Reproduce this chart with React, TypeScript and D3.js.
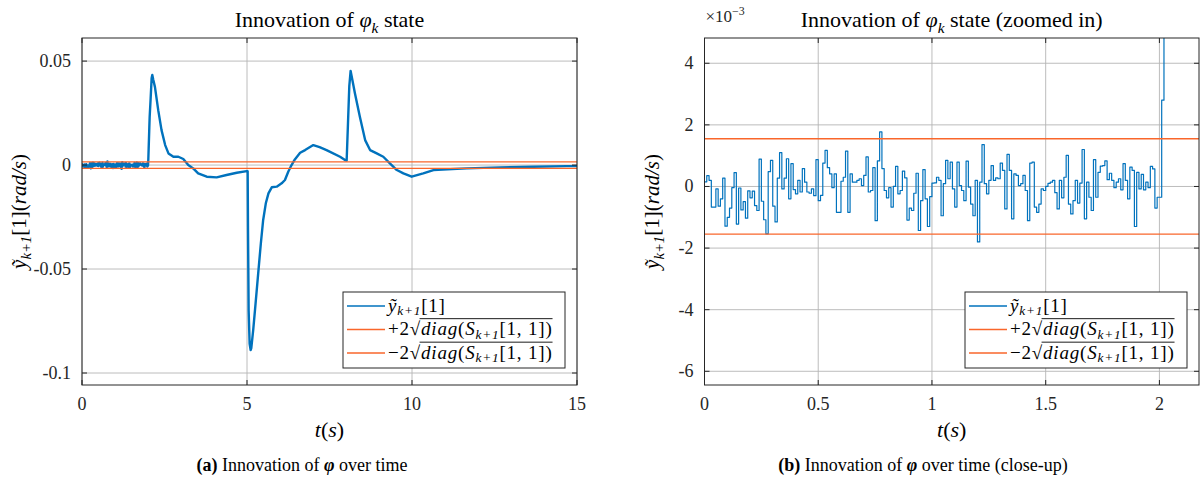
import React, { useEffect, useRef } from "react";
import * as d3 from "d3";

const W = 1204;
const H = 481;

// Close-up innovation samples (×1e-3 rad/s), sampled every ZOOM_DT seconds starting at t = 0
const ZOOM_DT = 0.01;
const ZOOM_VALUES = [
  0.15, 0.35, 0.2, -0.67, -0.67, -0.08, -0.64, -0.4, 0.27, -1.29,
  -1.0, -0.7, -0.04, 0.45, -1.22, -0.05, -0.76, -0.49, -1.03, -0.14,
  -0.37, -0.15, -0.62, -0.78, 0.89, -0.48, -1.08, -1.54, 0.48, 0.85,
  -0.64, -1.15, 0.27, 1.1, -0.08, 0.27,
  0.9, -0.4, 0.74, -0.1, -0.24, 0.2, -0.18, 0.58, 0.14, -0.18,
  -0.22, -0.08, -0.3, 0.87, -0.46, -0.29, 0.76, 1.17, 0.61, 0.41,
  -0.04, 0.41, -0.84, -0.84, 0.17, 0.3, 1.15, -0.84, 0.41, 0.14,
  0.14, 0.2, 0.25, 0.03, 0.36, 0.96, -0.18, -0.13, 0.61, -1.11,
  0.83, 1.77,
  0.58, -0.13, -0.37, -0.04, -0.67, 0, 0.65, -0.24,
  -0.13, 0.5, 0.28, -1.09, -0.7, -0.78, -0.22, 0.43, -1.43, -0.46,
  0.55, -0.4, -1.3, -0.33, 0.11,
  0.12, 0.3, 0.2, -0.95, 0.09, 0.85, 0.25, 0.79, -0.08, -0.67,
  0.79, 0.03, -0.13, -0.46, 0.82, -0.02, -0.57, -0.95, 0.2, -1.8,
  0.14, 1.36, 0.09, -0.24, 0.2, 0.68, 0.2, 0.28, 0.25, 0.76,
  0.52, -0.73, 1.04, 0.52, -1.05, 0.41, 0.36, 0.03, 0.09, 0.36,
  -0.13, -1.11, 0.76, 0.79, -0.67, -0.84, -0.57, -0.08, -0.13, 0,
  0.1, 0.14, 0.2, -0.2,
  -0.73, 0.2, -0.37, 0.3, 1.01, -0.57,
  -0.89, -0.46, 0.2, -0.54, 0.11, 1.2, -1.05, 0.14, -0.35, -0.78,
  0.87, -0.35, 0.46, 0.66, 0.68, 0.83, 0.22, 0.43, 0.2, -0.04,
  0.14, 0.25, -0.11, 0.74, 0.2, -0.4, 0.63, 0.52, -1.3, 0.46,
  -0.08, 0.39, -0.11, 0.14, -0.04, 0.65, 0.57, -0.7, -0.35,
  -0.35,
  2.8, 8, 13, 18, 23,
];

// Full-run innovation after the close-up window (t in s, value ×1e-3 rad/s)
const FULL_T = [
  2.08, 2.11, 2.13, 2.16, 2.21, 2.31, 2.41, 2.52, 2.62, 2.77, 2.92, 3.07, 3.22, 3.37, 3.52, 3.78,
  4.08, 4.38, 4.69, 4.99, 5.02, 5.03, 5.05, 5.08, 5.11, 5.13, 5.19, 5.26, 5.34, 5.42, 5.49, 5.57,
  5.65, 5.75, 5.9, 6.05, 6.15, 6.25, 6.35, 6.45, 6.61, 6.76, 7.01, 7.2, 7.41, 7.82, 7.97, 8.02,
  8.06, 8.1, 8.14, 8.18, 8.27, 8.42, 8.58, 8.73, 8.93, 9.13, 9.33, 9.54, 9.74, 9.99, 10.34, 10.65,
  11.66, 12.67, 13.68, 14.69, 15.0,
];
const FULL_V = [
  32, 41.7, 43.3, 41, 37.6, 26.4, 16.8, 9.6, 5.6, 4.0, 4.0, 2.9, 0, -1.6, -4.0, -5.6,
  -5.9, -4.8, -3.7, -2.9, -3.0, -30, -70, -86, -89, -88, -79, -66.5, -52, -37.6, -26.4, -18.4,
  -13.6, -10.7, -10.4, -8.8, -7.2, -3.2, 0, 2.7, 5.9, 7.2, 9.6, 8.6, 7.2, 4.0, 2.4, 2.2,
  20, 38, 45.3, 42, 34.5, 23.2, 12.0, 7.2, 5.6, 4.0, 0.8, -2.4, -4.0, -5.6, -4.0, -2.4,
  -1.6, -1.1, -0.8, -0.5, -0.5,
];

// ±2 sqrt(diag(S)) bound (×1e-3 rad/s)
const SIGMA_BOUND = 1.55;

const LEFT_X_TICKS = [0, 5, 10, 15];
const LEFT_X_LABELS = ["0", "5", "10", "15"];
const LEFT_Y_TICKS = [0.05, 0, -0.05, -0.1];
const LEFT_Y_LABELS = ["0.05", "0", "-0.05", "-0.1"];
const RIGHT_X_TICKS = [0, 0.5, 1, 1.5, 2];
const RIGHT_X_LABELS = ["0", "0.5", "1", "1.5", "2"];
const RIGHT_Y_TICKS = [4, 2, 0, -2, -4, -6];
const RIGHT_Y_LABELS = ["4", "2", "0", "-2", "-4", "-6"];

const BLUE = "#0072BD";
const ORANGE = "#F9662B";
const FONT = "'Liberation Serif', 'DejaVu Serif', serif";

type Seg = { t: string; it?: boolean; sub?: boolean; sup?: boolean; b?: boolean };

function mathText(sel: any, segs: Seg[], size: number, subShift = 0.3) {
  let shift = 0;
  segs.forEach((s) => {
    const target = s.sub ? size * subShift : s.sup ? -size * 0.42 : 0;
    sel
      .append("tspan")
      .attr("dy", target - shift)
      .style("font-size", `${s.sub || s.sup ? size * 0.7 : size}px`)
      .style("font-style", s.it ? "italic" : "normal")
      .style("font-weight", s.b ? "bold" : "normal")
      .text(s.t);
    shift = target;
  });
}

export default function App() {
  const ref = useRef<SVGSVGElement>(null);

  useEffect(() => {
    document.body.style.margin = "0";
    const svg = d3.select(ref.current);
    svg.selectAll("*").remove();
    svg.append("rect").attr("width", W).attr("height", H).attr("fill", "#fff");

    const zoomPts: [number, number][] = ZOOM_VALUES.map((v, i) => [i * ZOOM_DT, v]);
    const fullPts: [number, number][] = zoomPts
      .map(([t, v]) => [t, v * 1e-3] as [number, number])
      .concat(FULL_T.map((t, i) => [t, FULL_V[i] * 1e-3] as [number, number]));

    type Panel = {
      id: string;
      x0: number; x1: number; y0: number; y1: number;
      xDomain: [number, number]; yDomain: [number, number];
      xTicks: number[]; xLabels: string[]; yTicks: number[]; yLabels: string[];
      pts: [number, number][]; step: boolean; bound: number; lineW: number;
      title: Seg[]; yLabelX: number; legendX: number; legendY: number;
      caption: Seg[]; captionX: number; exponent: boolean;
    };

    const drawPanel = (p: Panel) => {
      const x = d3.scaleLinear().domain(p.xDomain).range([p.x0, p.x1]);
      const y = d3.scaleLinear().domain(p.yDomain).range([p.y1, p.y0]);
      const g = svg.append("g").style("font-family", FONT);

      // grid
      g.selectAll(".gx").data(p.xTicks).enter().append("line")
        .attr("x1", (d) => x(d)).attr("x2", (d) => x(d))
        .attr("y1", p.y0).attr("y2", p.y1)
        .attr("stroke", "#b4b4b4").attr("stroke-width", 0.9);
      g.selectAll(".gy").data(p.yTicks).enter().append("line")
        .attr("x1", p.x0).attr("x2", p.x1)
        .attr("y1", (d) => y(d)).attr("y2", (d) => y(d))
        .attr("stroke", "#b4b4b4").attr("stroke-width", 0.9);

      // clip
      svg.append("clipPath").attr("id", `clip-${p.id}`).append("rect")
        .attr("x", p.x0).attr("y", p.y0).attr("width", p.x1 - p.x0).attr("height", p.y1 - p.y0);
      const data = g.append("g").attr("clip-path", `url(#clip-${p.id})`);

      const line = d3.line<[number, number]>().x((d) => x(d[0])).y((d) => y(d[1]));
      if (p.step) line.curve(d3.curveStepAfter);
      data.append("path").attr("d", line(p.pts) as string)
        .attr("fill", "none").attr("stroke", BLUE).attr("stroke-width", p.lineW)
        .attr("stroke-linejoin", "round");
      [p.bound, -p.bound].forEach((b) => {
        data.append("line").attr("x1", p.x0).attr("x2", p.x1)
          .attr("y1", y(b)).attr("y2", y(b))
          .attr("stroke", ORANGE).attr("stroke-width", 1.3);
      });

      // box + ticks
      g.append("rect").attr("x", p.x0).attr("y", p.y0)
        .attr("width", p.x1 - p.x0).attr("height", p.y1 - p.y0)
        .attr("fill", "none").attr("stroke", "#262626").attr("stroke-width", 1);
      const tl = 5;
      p.xTicks.forEach((t) => {
        g.append("line").attr("x1", x(t)).attr("x2", x(t)).attr("y1", p.y1).attr("y2", p.y1 - tl).attr("stroke", "#262626");
        g.append("line").attr("x1", x(t)).attr("x2", x(t)).attr("y1", p.y0).attr("y2", p.y0 + tl).attr("stroke", "#262626");
      });
      p.yTicks.forEach((t) => {
        g.append("line").attr("x1", p.x0).attr("x2", p.x0 + tl).attr("y1", y(t)).attr("y2", y(t)).attr("stroke", "#262626");
        g.append("line").attr("x1", p.x1).attr("x2", p.x1 - tl).attr("y1", y(t)).attr("y2", y(t)).attr("stroke", "#262626");
      });

      // tick labels
      p.xTicks.forEach((t, i) => {
        g.append("text").attr("x", x(t)).attr("y", p.y1 + 25).attr("text-anchor", "middle")
          .style("font-size", "18px").attr("fill", "#262626").text(p.xLabels[i]);
      });
      p.yTicks.forEach((t, i) => {
        g.append("text").attr("x", p.x0 - 11).attr("y", y(t) + 6).attr("text-anchor", "end")
          .style("font-size", "18px").attr("fill", "#262626").text(p.yLabels[i]);
      });

      if (p.exponent) {
        const e = g.append("text").attr("x", p.x0 + 1).attr("y", 22).attr("fill", "#262626");
        mathText(e, [{ t: "×10" }, { t: "−3", sup: true }], 17);
      }

      // title
      const tt = g.append("text").attr("x", (p.x0 + p.x1) / 2).attr("y", 27)
        .attr("text-anchor", "middle").attr("fill", "#000");
      mathText(tt, p.title, 22, 0.25);

      // x label
      const xl = g.append("text").attr("x", (p.x0 + p.x1) / 2).attr("y", 437)
        .attr("text-anchor", "middle").attr("fill", "#000");
      mathText(xl, [{ t: "t", it: true }, { t: "(" }, { t: "s", it: true }, { t: ")" }], 22);

      // y label
      const yl = g.append("text")
        .attr("transform", `translate(${p.yLabelX},${(p.y0 + p.y1) / 2}) rotate(-90)`)
        .attr("text-anchor", "middle").attr("fill", "#000");
      mathText(yl, [
        { t: "ỹ", it: true }, { t: "k+1", sub: true, it: true }, { t: "[1](" },
        { t: "rad/s", it: true }, { t: ")" },
      ], 21, 0.25);

      // legend
      const lw = 222, lh = 76;
      const lg = g.append("g");
      lg.append("rect").attr("x", p.legendX).attr("y", p.legendY).attr("width", lw).attr("height", lh)
        .attr("fill", "#fff").attr("stroke", "#262626").attr("stroke-width", 1);
      const rows = [14, 37.5, 61];
      const colors = [BLUE, ORANGE, ORANGE];
      const fs = 19;
      const ls = "0.8px";
      rows.forEach((r, i) => {
        const cy = p.legendY + r;
        lg.append("line").attr("x1", p.legendX + 4).attr("x2", p.legendX + 42)
          .attr("y1", cy).attr("y2", cy).attr("stroke", colors[i]).attr("stroke-width", 1.3);
        const tx = p.legendX + 45;
        const by = cy + 5.5;
        if (i === 0) {
          const t = lg.append("text").attr("x", tx).attr("y", by).attr("fill", "#000")
            .style("letter-spacing", ls);
          mathText(t, [{ t: "ỹ", it: true }, { t: "k+1", sub: true, it: true }, { t: "[1]" }], fs, 0.2);
        } else {
          const pre = lg.append("text").attr("x", tx).attr("y", by).attr("fill", "#000")
            .style("letter-spacing", ls);
          mathText(pre, [{ t: i === 1 ? "+2" : "−2" }, { t: "√" }], fs);
          const w0 = (pre.node() as SVGTextElement).getComputedTextLength();
          const rad = lg.append("text").attr("x", tx + w0).attr("y", by).attr("fill", "#000")
            .style("letter-spacing", ls);
          mathText(rad, [
            { t: "diag", it: true }, { t: "(" }, { t: "S", it: true },
            { t: "k+1", sub: true, it: true }, { t: "[1, 1])" },
          ], fs, 0.2);
          const w1 = (rad.node() as SVGTextElement).getComputedTextLength();
          lg.append("line").attr("x1", tx + w0 - 1.5).attr("x2", tx + w0 + w1)
            .attr("y1", by - fs * 0.86).attr("y2", by - fs * 0.86)
            .attr("stroke", "#000").attr("stroke-width", 0.9);
        }
      });

      // caption
      const cap = g.append("text").attr("x", p.captionX).attr("y", 471)
        .attr("text-anchor", "middle").attr("fill", "#000");
      mathText(cap, p.caption, 18);
    };

    drawPanel({
      id: "a", x0: 82, x1: 577, y0: 38, y1: 385,
      xDomain: [0, 15], yDomain: [-0.10577, 0.0611],
      xTicks: LEFT_X_TICKS, xLabels: LEFT_X_LABELS, yTicks: LEFT_Y_TICKS, yLabels: LEFT_Y_LABELS,
      pts: fullPts, step: false, bound: SIGMA_BOUND * 1e-3, lineW: 2.4,
      title: [{ t: "Innovation of " }, { t: "φ", it: true }, { t: "k", sub: true, it: true }, { t: " state" }],
      yLabelX: 26, legendX: 343, legendY: 292,
      caption: [{ t: "(a)", b: true }, { t: " Innovation of " }, { t: "φ", it: true, b: true }, { t: " over time" }],
      captionX: 302, exponent: false,
    });

    drawPanel({
      id: "b", x0: 704.5, x1: 1199, y0: 38, y1: 385,
      xDomain: [0, 2.174], yDomain: [-6.445, 4.82],
      xTicks: RIGHT_X_TICKS, xLabels: RIGHT_X_LABELS, yTicks: RIGHT_Y_TICKS, yLabels: RIGHT_Y_LABELS,
      pts: zoomPts, step: true, bound: SIGMA_BOUND, lineW: 1.2,
      title: [{ t: "Innovation of " }, { t: "φ", it: true }, { t: "k", sub: true, it: true }, { t: " state (zoomed in)" }],
      yLabelX: 659, legendX: 965, legendY: 292,
      caption: [{ t: "(b)", b: true }, { t: " Innovation of " }, { t: "φ", it: true, b: true }, { t: " over time (close-up)" }],
      captionX: 923, exponent: true,
    });
  }, []);

  return <svg ref={ref} width={W} height={H} style={{ display: "block" }} />;
}
